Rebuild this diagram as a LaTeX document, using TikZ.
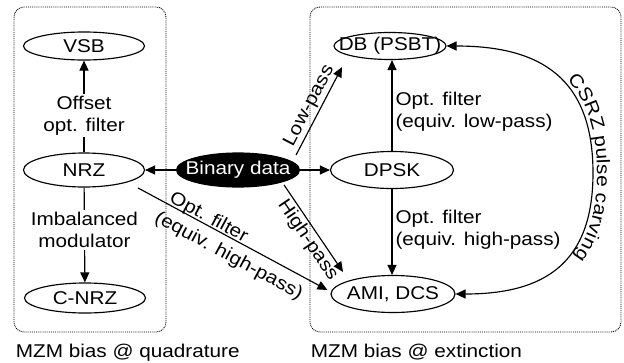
\documentclass[tikz,border=0pt]{standalone}
\usepackage{fontspec}
\setmainfont{Liberation Sans}[FakeStretch=1.12]
\usetikzlibrary{shapes, arrows.meta, positioning, calc, decorations.text}
\tikzstyle{fmt}=[draw,ellipse,inner xsep=-25pt,inner ysep=0pt,minimum width=121pt,minimum height=32pt]
\tikzstyle{grp}=[draw,densely dotted,line width=0.9pt,rounded corners=10pt]
\tikzstyle{lbl}=[fill=white,align=center,inner sep=2pt]
\tikzstyle{every node}=[font=\fontsize{18.5}{22}\selectfont]

\begin{document}
\begin{tikzpicture}[x=1pt,y=-1pt,line width=1.15pt,>={Triangle[length=10pt,width=9pt]}]
  \useasboundingbox (0,0) rectangle (624,362);
  \draw[grp] (14,7) rectangle (166,332);
  \draw[grp] (310,7) rectangle (621,332);
  \node[fmt,minimum height=28pt] (vsb) at (84,46) {VSB};
  \node[fmt,minimum height=34pt] (nrz) at (84,170) {NRZ};
  \node[fmt,minimum height=30pt] (cnrz) at (85,298) {C-NRZ};
  \node[fmt,fill=black,text=white,minimum width=123pt,minimum height=34pt] (bin) at (238,170) {Binary data};
  \node[fmt,minimum width=112pt,minimum height=27pt] (db) at (390,46) {DB (PSBT)};
  \node[fmt,minimum width=123pt,minimum height=37pt] (dpsk) at (392,170) {DPSK};
  \node[fmt,minimum width=124pt,minimum height=37pt] (ami) at (393,294) {AMI, DCS};
  \node[anchor=base west] (quad) at (12,357) {MZM bias @ quadrature};
  \node[anchor=base west] (ext) at (307,357) {MZM bias @ extinction};
  \coordinate (turn) at (593,173);
  \draw[->] (bin) -- (nrz);
  \draw[->] (bin) -- (dpsk);
  \draw[->] (nrz) -- node[lbl,pos=0.4] {Offset\\opt. filter} (vsb);
  \draw[->] (nrz) -- node[lbl,pos=0.45] {Imbalanced\\modulator} (cnrz);
  \draw[->] (dpsk.north) -- node[right,align=left,pos=0.43,inner sep=3pt] {Opt. filter\\(equiv. low-pass)} (dpsk.north |- db.south);
  \draw[->] (dpsk.south) -- node[right,align=left,pos=0.47,inner sep=3pt] {Opt. filter\\(equiv. high-pass)} (dpsk.south |- ami.north);
  \draw[->] ($(bin.east)+(-4,-15)$) -- node[above,sloped,inner sep=2pt,pos=0.5] {Low-pass} ($(db.south)+(-48,7)$);
  \draw[->] ($(bin.east)+(-16,15)$) -- node[below,sloped,inner sep=2pt,pos=0.56] {High-pass} ($(ami.north)+(-50,-3)$);
  \draw[->] ($(nrz.east)+(-7,18)$) -- node[sloped,align=left,pos=0.52,yshift=-5pt] {\hspace*{4pt}Opt. filter\\[2pt](equiv. high-pass)} ($(ami.west)+(-3,-4)$);
  \draw[<->,postaction={decorate,decoration={text along path,text align=center,raise=4pt,
      text={|\fontsize{18.5}{22}\selectfont|CSRZ pulse carving}}}]
    (db.east) to[out=0,in=90,looseness=1.25] (turn) to[out=-90,in=0,looseness=1.25] (ami.east);
\end{tikzpicture}
\end{document}
